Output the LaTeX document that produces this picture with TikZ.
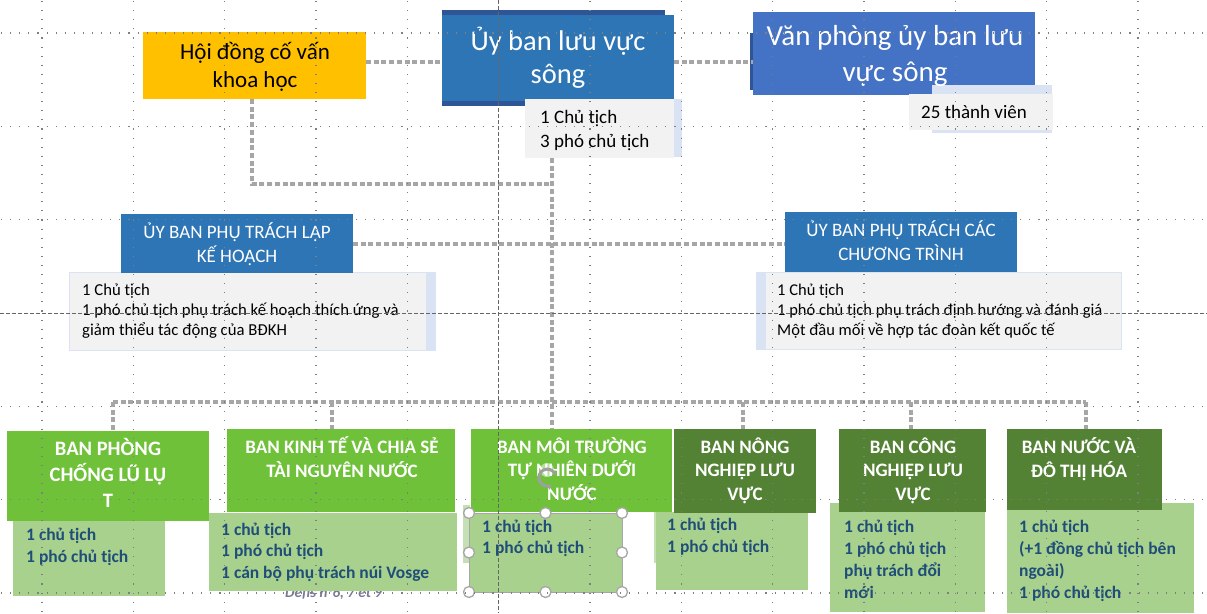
\documentclass[tikz,border=0pt]{standalone}
\usepackage{fontspec}
\setmainfont{Carlito}
\usetikzlibrary{arrows.meta}
\definecolor{hdfill}{HTML}{FFC000}
\definecolor{bluemain}{HTML}{2E75B6}
\definecolor{bluedark}{HTML}{2F5597}
\definecolor{bluevp}{HTML}{4472C4}
\definecolor{grayfill}{HTML}{F2F2F2}
\definecolor{bluelight}{HTML}{DAE3F3}
\definecolor{greenbright}{HTML}{6FC13A}
\definecolor{greendark}{HTML}{548235}
\definecolor{greenlight}{HTML}{A9D18E}
\definecolor{greenpale}{HTML}{C5E0B4}
\definecolor{textblue}{HTML}{1F4E79}
\definecolor{conncol}{HTML}{A6A6A6}
\definecolor{gridc}{HTML}{7F7F7F}
\definecolor{ghost}{HTML}{7A7A95}
\newcommand\rbox[6]{\node[#6, inner sep=0pt, outer sep=0pt, minimum width={(#4-#2)*1pt}, minimum height={(#5-#3)*1pt}] (#1) at ({(#2+#4)/2},{(#3+#5)/2}) {};}
\begin{document}
\begin{tikzpicture}[x=1pt,y=-1pt,
  conn/.style={draw=conncol, line width=4pt, dash pattern=on 5pt off 2.7pt},
  gridl/.style={draw=gridc, line width=1.1pt, dash pattern=on 1.1pt off 8pt},
  guide/.style={draw=gridc!80!black, line width=0.8pt, dash pattern=on 4pt off 2pt},
  titlew/.style={anchor=base, align=center, text=white, inner sep=0pt},
  dettext/.style={anchor=base west, align=left, inner sep=0pt, text=black},
  bantext/.style={anchor=base, align=center, text=white, inner sep=0pt, font=\fontsize{19}{23.5}\selectfont\bfseries},
  bandet/.style={anchor=base west, align=left, inner sep=0pt, text=textblue, font=\fontsize{17.5}{22}\selectfont\bfseries},
]
\useasboundingbox (0,0) rectangle (1207,613);

% ---------- boxes (top) ----------
\rbox{hd}{143}{32}{366}{99}{fill=hdfill}
\fill[bluedark] (442,10) rectangle (665,106);
\rbox{ub}{442}{15}{674}{101}{fill=bluemain}
\fill[bluedark] (750,33) rectangle (754,90);
\rbox{vp}{753}{12}{1035}{95}{fill=bluevp}
\fill[bluelight] (674,99) rectangle (682,157);
\rbox{ubd}{525}{99}{674}{158}{fill=grayfill}
\fill[bluelight] (932,85) rectangle (1052,133);
\rbox{vpd}{909}{94}{1053}{130}{fill=grayfill}

% ---------- middle ----------
\rbox{khd}{69}{272}{435}{350}{fill=grayfill, draw=bluelight, line width=1pt}
\fill[bluelight] (426,272) rectangle (435,350);
\rbox{kh}{121}{214}{353}{273}{fill=bluemain}
\rbox{ctd}{756}{272}{1121}{349}{fill=grayfill, draw=bluelight, line width=1pt}
\fill[bluelight] (756,272) rectangle (766,349);
\rbox{ct}{785}{212}{1017}{272}{fill=bluemain}

% ---------- connectors ----------
\coordinate (c1) at ([yshift=3.5pt]hd.east);
\draw[conn] (c1) -- (c1 -| ub.west);
\coordinate (c2) at ([yshift=-4pt]ub.east);
\draw[conn] (c2) -- (c2 -| vp.west);
\coordinate (s0) at (552,158);
\coordinate (sj) at (552,184);
\draw[conn] ([xshift=-2.5pt]hd.south) |- (sj);
\draw[conn] (kh.east) -- (kh.east -| ct.west);
\coordinate (bus1) at (113,402);
\coordinate (bus2) at (332,402);
\coordinate (bus4) at (743,402);
\coordinate (bus5) at (911,402);
\coordinate (bus6) at (1086,402);
\draw[conn] (bus1) -- (bus6);

% ---------- bottom details ----------
\rbox{b1d}{13}{521}{165}{596}{fill=greenlight}
\node[anchor=base west, inner sep=0pt, text=ghost, font=\fontsize{15}{18}\selectfont\bfseries\itshape] (ghosttxt) at (285,597) {Défis n°6, 7 et 9};
\rbox{b2d}{209}{513}{457}{591}{fill=greenlight}
\fill[greenpale] (463,505) rectangle (470,563);
\rbox{b3d}{469}{513}{622}{592}{fill=greenlight}
\fill[greenpale] (654,512) rectangle (658,563);
\rbox{b4d}{656}{512}{808}{590}{fill=greenlight}
\rbox{b5d}{830}{503}{985}{612}{fill=greenlight}
\rbox{b6d}{1007}{503}{1194}{613}{fill=greenlight}

% ---------- bottom boxes ----------
\rbox{b1}{7}{431}{209}{521}{fill=greenbright}
\rbox{b2}{227}{429}{455}{512}{fill=greenbright}
\rbox{b3}{471}{429}{672}{512}{fill=greenbright}
\rbox{b4}{674}{429}{816}{513}{fill=greendark}
\rbox{b5}{839}{429}{986}{512}{fill=greendark}
\rbox{b6}{1007}{429}{1162}{510}{fill=greendark}

\draw[conn] (s0) -- (s0 |- b3.north);
\draw[conn] (bus1) -- (bus1 |- b1.north);
\draw[conn] (bus2) -- (bus2 |- b2.north);
\draw[conn] (bus4) -- (bus4 |- b4.north);
\draw[conn] (bus5) -- (bus5 |- b5.north);
\draw[conn] (bus6) -- (bus6 |- b6.north);

% ---------- texts (anchor = baseline of the last line) ----------
\node[anchor=base, align=center, inner sep=0pt, text=black, font=\fontsize{23}{27.5}\selectfont] (hdt) at (255,87) {Hội đồng cố vấn\\khoa học};
\node[titlew, font=\fontsize{28.5}{33}\selectfont] (ubt) at (558,83) {Ủy ban lưu vực\\sông};
\node[titlew, font=\fontsize{29}{36}\selectfont] (vpt) at (895,81) {Văn phòng ủy ban lưu\\vực sông};
\node[dettext, font=\fontsize{19}{24}\selectfont] (ubdt) at (540,147) {1 Chủ tịch\\3 phó chủ tịch};
\node[dettext, font=\fontsize{19}{22}\selectfont] (vpdt) at (921,118) {25 thành viên};
\node[titlew, font=\fontsize{19}{24}\selectfont] (kht) at (237,262) {ỦY BAN PHỤ TRÁCH LẬP\\KẾ HOẠCH};
\node[titlew, font=\fontsize{19}{24}\selectfont] (ctt) at (901,260) {ỦY BAN PHỤ TRÁCH CÁC\\CHƯƠNG TRÌNH};
\node[dettext, font=\fontsize{16.7}{20}\selectfont] (khdt) at (82,335) {1 Chủ tịch\\1 phó chủ tịch phụ trách kế hoạch thích ứng và\\giảm thiểu tác động của BĐKH};
\node[dettext, font=\fontsize{16.5}{20}\selectfont] (ctdt) at (777,335) {1 Chủ tịch\\1 phó chủ tịch phụ trách định hướng và đánh giá\\Một đầu mối về hợp tác đoàn kết quốc tế};

\node[bantext, font=\fontsize{20.5}{26}\selectfont\bfseries] (b1t) at (108,507) {BAN PHÒNG\\CHỐNG LŨ LỤ\\T};
\node[bantext] (b2t) at (342,477) {BAN KINH TẾ VÀ CHIA SẺ\\TÀI NGUYÊN NƯỚC};
\node[bantext] (b3t) at (572,500) {BAN MÔI TRƯỜNG\\TỰ NHIÊN DƯỚI\\NƯỚC};
\node[bantext] (b4t) at (745,500) {BAN NÔNG\\NGHIỆP LƯU\\VỰC};
\node[bantext] (b5t) at (913,500) {BAN CÔNG\\NGHIỆP LƯU\\VỰC};
\node[bantext] (b6t) at (1079,477) {BAN NƯỚC VÀ\\ĐÔ THỊ HÓA};

\node[bandet] (b1dt) at (26,562) {1 chủ tịch\\1 phó chủ tịch};
\node[bandet, font=\fontsize{17.5}{21.5}\selectfont\bfseries] (b2dt) at (221,578) {1 chủ tịch\\1 phó chủ tịch\\1 cán bộ phụ trách núi Vosge};
\node[bandet, font=\fontsize{17.5}{21}\selectfont\bfseries] (b3dt) at (482,553) {1 chủ tịch\\1 phó chủ tịch};
\node[bandet] (b4dt) at (667,552) {1 chủ tịch\\1 phó chủ tịch};
\node[bandet, font=\fontsize{17.5}{21.7}\selectfont\bfseries] (b5dt) at (844,598) {1 chủ tịch\\1 phó chủ tịch\\phụ trách đổi\\mới};
\node[bandet, font=\fontsize{17.5}{21.7}\selectfont\bfseries] (b6dt) at (1019,598) {1 chủ tịch\\(+1 đồng chủ tịch bên\\ngoài)\\1 phó chủ tịch};

% ---------- selection handles ----------
\draw[gray!70, line width=0.8pt] (b3d.north west) rectangle (b3d.south east);
\foreach \a in {north west,north,north east,east,south east,south,south west,west}
  \filldraw[fill=white, draw=gray!70, line width=1.3pt] (b3d.\a) circle (5.5pt);
\fill[white, opacity=0.5] (547,470) circle (7pt);
\draw[gray!75, line width=3pt, -{Stealth[length=5pt,width=7pt]}] (555,474) arc[start angle=-25, end angle=-300, radius=8.5];

% ---------- grid ----------
\foreach \gx in {42,133.3,224.7,316,407.3,590,681.3,772.7,864,955.3,1046.7,1138}
  \draw[gridl] (\gx,1) -- (\gx,613);
\foreach \gy in {33,126.3,219.7,406.3,499.7,593}
  \draw[gridl] (1,\gy) -- (1207,\gy);
\draw[guide] (498.7,0) -- (498.7,613);
\draw[guide] (0,313.5) -- (1207,313.5);
\end{tikzpicture}
\end{document}
